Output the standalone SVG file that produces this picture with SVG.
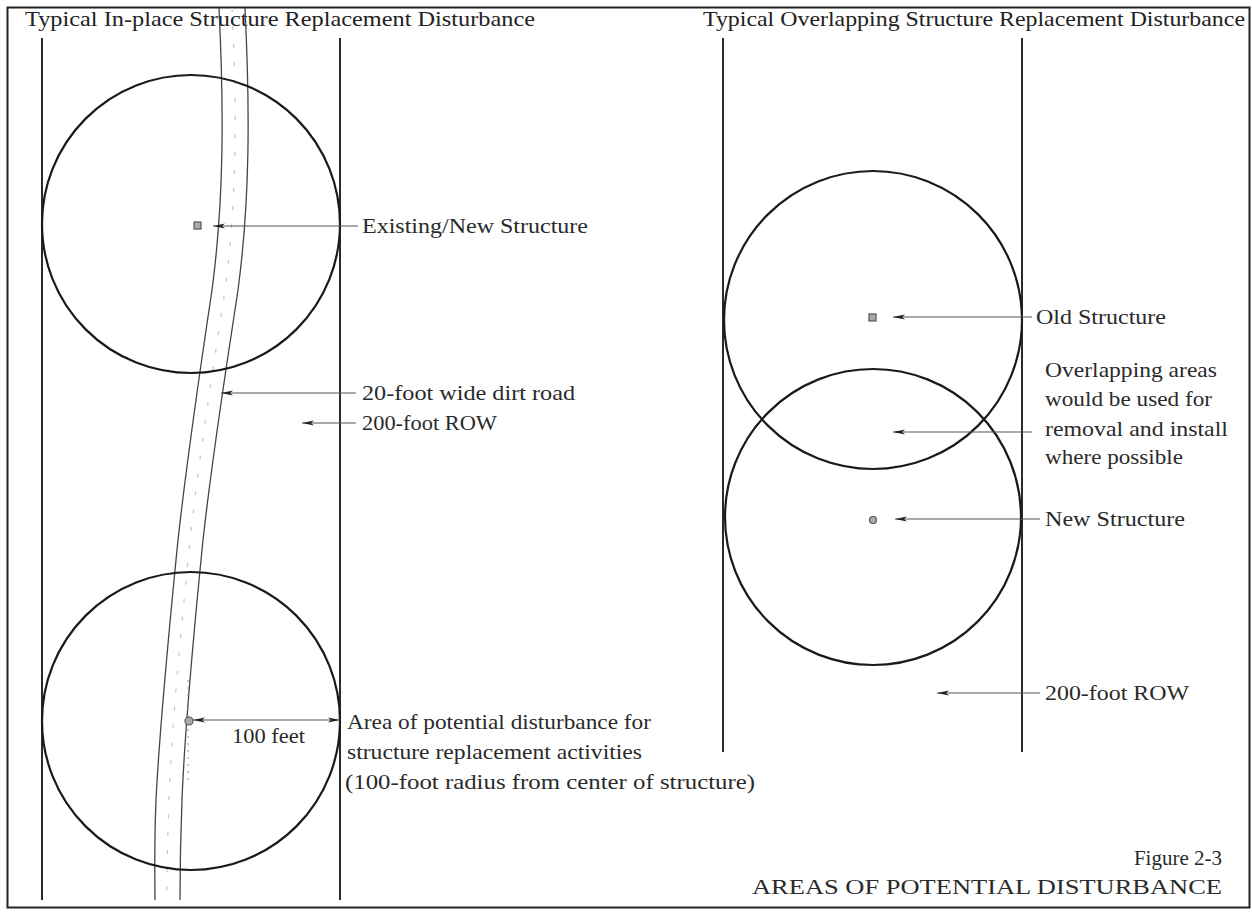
<svg xmlns="http://www.w3.org/2000/svg" width="1252" height="913" viewBox="0 0 1252 913">
<defs>
<style>
.t{font-family:"Liberation Serif","Times New Roman",serif;font-size:21px;fill:#2a2a2a}
.ti{font-family:"Liberation Serif","Times New Roman",serif;font-size:22px;fill:#222}
.row{stroke:#2a2a2a;stroke-width:2;fill:none}
.circ{stroke:#1a1a1a;stroke-width:2.2;fill:none}
.road{stroke:#444;stroke-width:1.3;fill:none}
.lead{stroke:#555;stroke-width:1.1;fill:none}
.st{fill:#aaa;stroke:#555;stroke-width:1.2}
</style>
<marker id="ah" markerWidth="12" markerHeight="6" refX="12" refY="3" orient="auto-start-reverse" markerUnits="userSpaceOnUse">
<path d="M12,3 L0,0.5 L3,3 L0,5.5 Z" fill="#222"/>
</marker>
</defs>
<rect x="0" y="0" width="1252" height="913" fill="#fff"/>
<rect x="7.5" y="7.5" width="1242" height="900" fill="none" stroke="#222" stroke-width="2"/>

<g id="left-panel">
<text class="ti" x="25" y="26" textLength="510" lengthAdjust="spacingAndGlyphs">Typical In-place Structure Replacement Disturbance</text>
<line class="row" x1="42" y1="38" x2="42" y2="900"/>
<line class="row" x1="340" y1="38" x2="340" y2="900"/>
</g>

<g id="road">
<path class="road" d="M219,8 C224,110 224,200 212,290 C200,370 188,450 178,540 C170,620 160,720 156,800 C154,850 155,880 155,900"/>
<path class="road" d="M245,8 C250,110 250,200 238,290 C226,370 213,450 203,540 C195,620 185,720 182,800 C180,850 180,880 180,900"/>
<path d="M232,8 C237,110 237,200 225,290 C213,370 200,450 190,540 C182,620 172,720 169,800 C167,850 167,880 167,900" fill="none" stroke="#c4c4c4" stroke-width="1.2" stroke-dasharray="4 14"/>
<line x1="188" y1="680" x2="188" y2="780" stroke="#999" stroke-width="1" stroke-dasharray="2 5"/>
</g>

<g id="circle-top-left"><circle class="circ" cx="191" cy="224" r="149"/></g>
<g id="circle-bottom-left"><circle class="circ" cx="191" cy="721" r="149"/></g>
<g id="structure-existing"><rect class="st" x="194" y="222" width="7" height="7"/></g>
<g id="structure-bottom"><circle class="st" cx="189" cy="721" r="4"/></g>

<g id="right-panel">
<text class="ti" x="703" y="26" textLength="542" lengthAdjust="spacingAndGlyphs">Typical Overlapping Structure Replacement Disturbance</text>
<line class="row" x1="723" y1="38" x2="723" y2="752"/>
<line class="row" x1="1022" y1="38" x2="1022" y2="752"/>
</g>
<g id="circle-old"><circle class="circ" cx="873" cy="320" r="149"/></g>
<g id="circle-new"><circle class="circ" cx="873" cy="517" r="148"/></g>
<g id="structure-old"><rect class="st" x="869" y="314" width="7" height="7"/></g>
<g id="structure-new"><circle class="st" cx="873" cy="520" r="3.5"/></g>

<g id="connectors">
<line class="lead" x1="358" y1="226" x2="213" y2="226" marker-end="url(#ah)"/>
<line class="lead" x1="356" y1="393" x2="221" y2="393" marker-end="url(#ah)"/>
<line class="lead" x1="356" y1="423" x2="302" y2="423" marker-end="url(#ah)"/>
<line class="lead" x1="193" y1="720" x2="340" y2="720" marker-start="url(#ah)" marker-end="url(#ah)"/>
<line class="lead" x1="1032" y1="317" x2="893" y2="317" marker-end="url(#ah)"/>
<line class="lead" x1="1032" y1="432" x2="893" y2="432" marker-end="url(#ah)"/>
<line class="lead" x1="1040" y1="519" x2="895" y2="519" marker-end="url(#ah)"/>
<line class="lead" x1="1040" y1="693" x2="937" y2="693" marker-end="url(#ah)"/>
</g>

<g id="labels">
<text class="t" x="362" y="233" textLength="226" lengthAdjust="spacingAndGlyphs">Existing/New Structure</text>
<text class="t" x="362" y="400" textLength="213" lengthAdjust="spacingAndGlyphs">20-foot wide dirt road</text>
<text class="t" x="362" y="430" textLength="135" lengthAdjust="spacingAndGlyphs">200-foot ROW</text>
<text class="t" x="232" y="743" textLength="73" lengthAdjust="spacingAndGlyphs">100 feet</text>
<text class="t" x="347" y="729" textLength="304" lengthAdjust="spacingAndGlyphs">Area of potential disturbance for</text>
<text class="t" x="347" y="759" textLength="295" lengthAdjust="spacingAndGlyphs">structure replacement activities</text>
<text class="t" x="345" y="789" textLength="410" lengthAdjust="spacingAndGlyphs">(100-foot radius from center of structure)</text>
<text class="t" x="1036" y="324" textLength="130" lengthAdjust="spacingAndGlyphs">Old Structure</text>
<text class="t" x="1045" y="377" textLength="172" lengthAdjust="spacingAndGlyphs">Overlapping areas</text>
<text class="t" x="1045" y="406" textLength="167" lengthAdjust="spacingAndGlyphs">would be used for</text>
<text class="t" x="1045" y="436" textLength="183" lengthAdjust="spacingAndGlyphs">removal and install</text>
<text class="t" x="1045" y="464" textLength="138" lengthAdjust="spacingAndGlyphs">where possible</text>
<text class="t" x="1045" y="526" textLength="140" lengthAdjust="spacingAndGlyphs">New Structure</text>
<text class="t" x="1045" y="700" textLength="144" lengthAdjust="spacingAndGlyphs">200-foot ROW</text>
<text class="t" x="1222" y="865" text-anchor="end">Figure 2-3</text>
<text class="t" x="752" y="894" textLength="470" lengthAdjust="spacingAndGlyphs" style="font-size:22px">AREAS OF POTENTIAL DISTURBANCE</text>
</g>
</svg>
